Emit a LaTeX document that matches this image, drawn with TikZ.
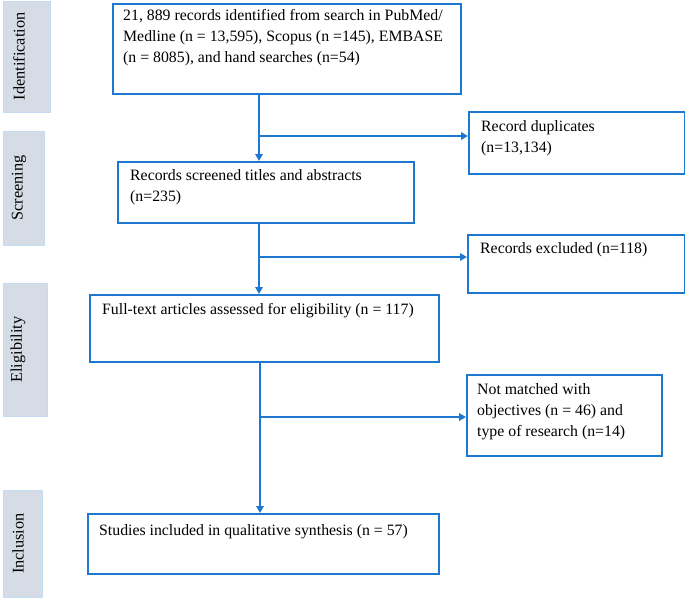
\documentclass[tikz,border=0pt]{standalone}
\usepackage{fontspec}
\setmainfont{Liberation Serif}
\usetikzlibrary{arrows.meta}
\definecolor{flowblue}{RGB}{31,120,208}
\definecolor{phasefill}{RGB}{214,220,229}
\definecolor{phaseedge}{RGB}{196,220,242}
\begin{document}
\begin{tikzpicture}[x=1pt,y=-1pt,
  flowbox/.style={draw=flowblue,line width=2pt,anchor=north west,inner sep=0pt},
  phasebox/.style={draw=phaseedge,fill=phasefill,line width=1pt,anchor=north west,inner sep=0pt},
  phaselabel/.style={rotate=90,inner sep=0pt,font=\fontsize{16.3}{18}\selectfont},
  txt/.style={anchor=north west,inner sep=0pt,align=left,font=\fontsize{15.8}{21}\selectfont},
  conn/.style={draw=flowblue,line width=2pt},
  tip/.style={-{Triangle[length=7pt,width=7.5pt]}}]
\useasboundingbox (0,0) rectangle (685,599);
% phase boxes
\node[phasebox,minimum width=47pt,minimum height=111pt] (pid) at (3,1) {};
\node[phasebox,minimum width=41pt,minimum height=114pt] (psc) at (3,131) {};
\node[phasebox,minimum width=44pt,minimum height=133pt] (pel) at (3,283) {};
\node[phasebox,minimum width=39pt,minimum height=107pt] (pin) at (3,490) {};
\node[phaselabel] (lid) at (19,56.5) {Identification};
\node[phaselabel] (lsc) at (19,188) {Screening};
\node[phaselabel] (lel) at (18,349.5) {Eligibility};
\node[phaselabel] (lin) at (18,543.5) {Inclusion};
% main boxes
\node[flowbox,minimum width=348pt,minimum height=90pt] (b1) at (112,3) {};
\node[flowbox,minimum width=296pt,minimum height=61pt] (b2) at (117,161) {};
\node[flowbox,minimum width=349pt,minimum height=67pt] (b3) at (89,294) {};
\node[flowbox,minimum width=351pt,minimum height=60pt] (b4) at (87,513) {};
\node[flowbox,minimum width=216pt,minimum height=62pt] (dup) at (468,111) {};
\node[flowbox,minimum width=217pt,minimum height=58pt] (exc) at (467,234) {};
\node[flowbox,minimum width=195pt,minimum height=81pt] (nm) at (466,374) {};
% texts
\node[txt] (t1) at (123,9) {21, 889 records identified from search in PubMed/\\Medline (n = 13,595), Scopus (n =145), EMBASE\\(n = 8085), and hand searches (n=54)};
\node[txt] (t2) at (130,169) {Records screened titles and abstracts\\(n=235)};
\node[txt] (t3) at (102,303) {Full-text articles assessed for eligibility (n = 117)};
\node[txt] (t4) at (99,524) {Studies included in qualitative synthesis (n = 57)};
\node[txt] (tdup) at (481,120) {Record duplicates\\(n=13,134)};
\node[txt] (texc) at (480,242) {Records excluded (n=118)};
\node[txt] (tnm) at (477,383) {Not matched with\\objectives (n = 46) and\\type of research (n=14)};
% junctions
\coordinate (j1) at (259,136);
\coordinate (j2) at (259,257);
\coordinate (j3) at (260,417);
% connectors
\draw[conn,tip] (b1.south -| j1) -- (b2.north -| j1);
\draw[conn,tip] (j1) -- (dup.west |- j1);
\draw[conn,tip] (b2.south -| j2) -- (b3.north -| j2);
\draw[conn,tip] (j2) -- (exc.west |- j2);
\draw[conn,tip] (b3.south -| j3) -- (b4.north -| j3);
\draw[conn,tip] (j3) -- (nm.west |- j3);
\end{tikzpicture}
\end{document}
